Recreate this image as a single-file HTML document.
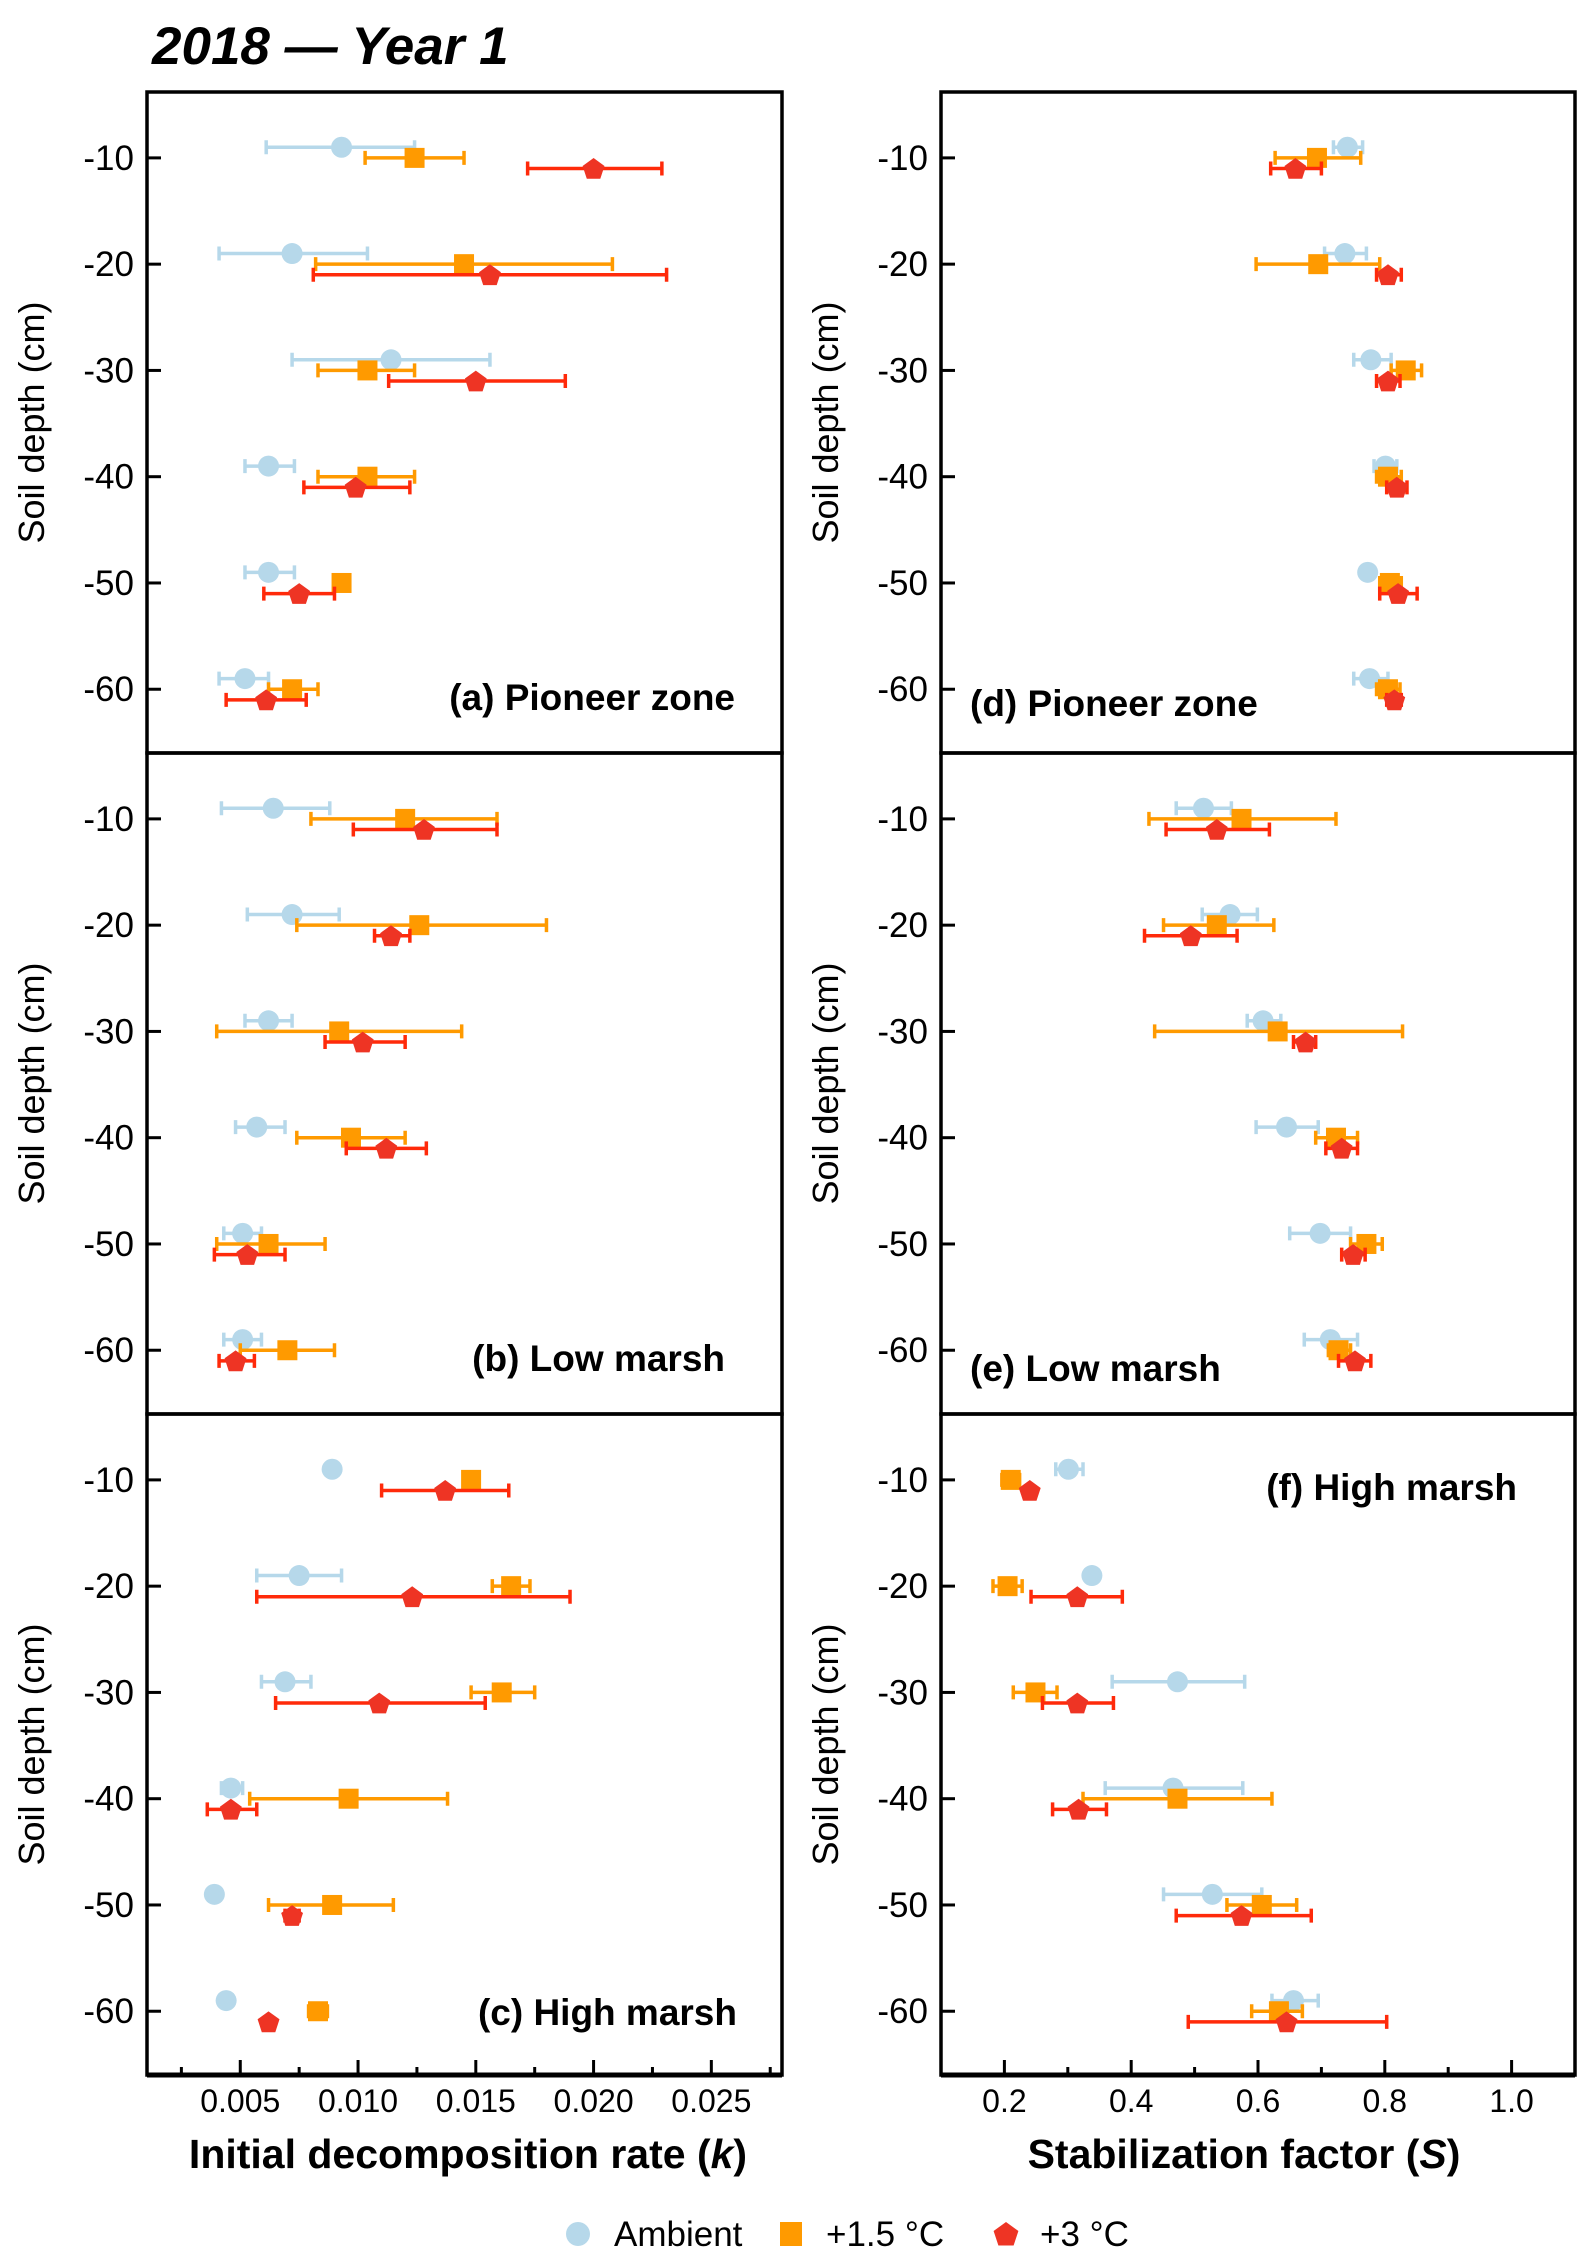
<!DOCTYPE html>
<html><head><meta charset="utf-8"><style>
body{margin:0;background:#fff}
svg{display:block;font-family:"Liberation Sans",Arial,sans-serif}
</style></head><body>
<svg id="fig" width="1595" height="2266" viewBox="0 0 1595 2266" xmlns="http://www.w3.org/2000/svg">
<text x="152" y="64" font-size="53" font-weight="bold" font-style="italic">2018 — Year 1</text>
</svg>
<script>
const depths=[-10,-20,-30,-40,-50,-60];
const kTicks=[0.005,0.010,0.015,0.020,0.025];
const kTickLabels=["0.005","0.010","0.015","0.020","0.025"];
const sTicks=[0.2,0.4,0.6,0.8,1.0];
const sTickLabels=["0.2","0.4","0.6","0.8","1.0"];
const yTicks=[-10,-20,-30,-40,-50,-60];
// panel a (k)
const aAmb=[0.0093,0.0072,0.0114,0.0062,0.0062,0.0052];
const aAmbLo=[0.0061,0.0041,0.0072,0.0052,0.0052,0.0041];
const aAmbHi=[0.0124,0.0104,0.0156,0.0073,0.0073,0.0062];
const aW15=[0.0124,0.0145,0.0104,0.0104,0.0093,0.0072];
const aW15Lo=[0.0103,0.0082,0.0083,0.0083,0.0093,0.0062];
const aW15Hi=[0.0145,0.0208,0.0124,0.0124,0.0093,0.0083];
const aW3=[0.0200,0.0156,0.0150,0.0099,0.0075,0.0061];
const aW3Lo=[0.0172,0.0081,0.0113,0.0077,0.0060,0.0044];
const aW3Hi=[0.0229,0.0231,0.0188,0.0122,0.0090,0.0078];
// panel b (k)
const bAmb=[0.0064,0.0072,0.0062,0.0057,0.0051,0.0051];
const bAmbLo=[0.0042,0.0053,0.0052,0.0048,0.0043,0.0043];
const bAmbHi=[0.0088,0.0092,0.0072,0.0069,0.0059,0.0059];
const bW15=[0.0120,0.0126,0.0092,0.0097,0.0062,0.0070];
const bW15Lo=[0.0080,0.0074,0.0040,0.0074,0.0040,0.0050];
const bW15Hi=[0.0159,0.0180,0.0144,0.0120,0.0086,0.0090];
const bW3=[0.0128,0.0114,0.0102,0.0112,0.0053,0.0048];
const bW3Lo=[0.0098,0.0107,0.0086,0.0095,0.0039,0.0041];
const bW3Hi=[0.0159,0.0122,0.0120,0.0129,0.0069,0.0056];
// panel c (k)
const cAmb=[0.0089,0.0075,0.0069,0.0046,0.0039,0.0044];
const cAmbLo=[0.0089,0.0057,0.0059,0.0042,0.0039,0.0044];
const cAmbHi=[0.0089,0.0093,0.0080,0.0051,0.0039,0.0044];
const cW15=[0.0148,0.0165,0.0161,0.0096,0.0089,0.0083];
const cW15Lo=[0.0148,0.0157,0.0148,0.0054,0.0062,0.0079];
const cW15Hi=[0.0148,0.0173,0.0175,0.0138,0.0115,0.0087];
const cW3=[0.0137,0.0123,0.0109,0.0046,0.0072,0.0062];
const cW3Lo=[0.0110,0.0057,0.0065,0.0036,0.0069,0.0062];
const cW3Hi=[0.0164,0.0190,0.0154,0.0057,0.0075,0.0062];
// panel d (S)
const dAmb=[0.741,0.737,0.778,0.801,0.773,0.776];
const dAmbLo=[0.719,0.705,0.751,0.783,0.773,0.751];
const dAmbHi=[0.765,0.771,0.810,0.819,0.773,0.805];
const dW15=[0.693,0.695,0.833,0.805,0.808,0.805];
const dW15Lo=[0.627,0.597,0.810,0.787,0.792,0.787];
const dW15Hi=[0.762,0.792,0.858,0.826,0.826,0.824];
const dW3=[0.659,0.805,0.805,0.819,0.821,0.815];
const dW3Lo=[0.620,0.787,0.787,0.803,0.792,0.803];
const dW3Hi=[0.700,0.826,0.824,0.835,0.851,0.826];
// panel e (S)
const eAmb=[0.514,0.556,0.608,0.645,0.698,0.714];
const eAmbLo=[0.471,0.512,0.583,0.597,0.650,0.673];
const eAmbHi=[0.558,0.599,0.636,0.695,0.746,0.757];
const eW15=[0.574,0.535,0.631,0.723,0.771,0.727];
const eW15Lo=[0.428,0.451,0.437,0.691,0.746,0.711];
const eW15Hi=[0.723,0.625,0.828,0.757,0.796,0.746];
const eW3=[0.535,0.494,0.675,0.732,0.750,0.753];
const eW3Lo=[0.455,0.421,0.656,0.707,0.732,0.727];
const eW3Hi=[0.618,0.567,0.691,0.757,0.769,0.778];
// panel f (S)
const fAmb=[0.301,0.338,0.473,0.466,0.528,0.656];
const fAmbLo=[0.281,0.338,0.370,0.359,0.451,0.622];
const fAmbHi=[0.324,0.338,0.579,0.576,0.606,0.695];
const fW15=[0.210,0.205,0.249,0.473,0.606,0.633];
const fW15Lo=[0.196,0.182,0.214,0.324,0.551,0.590];
const fW15Hi=[0.224,0.228,0.283,0.622,0.661,0.670];
const fW3=[0.240,0.315,0.315,0.317,0.574,0.645];
const fW3Lo=[0.240,0.242,0.260,0.276,0.471,0.490];
const fW3Hi=[0.240,0.386,0.372,0.361,0.684,0.803];

const NS="http://www.w3.org/2000/svg";
const svg=document.getElementById('fig');
function mk(tag,attrs,parent){const e=document.createElementNS(NS,tag);for(const k in attrs)e.setAttribute(k,attrs[k]);(parent||svg).appendChild(e);return e;}
const AMB="#b6d8ea",ORG="#ff9a00",RED="#ee3424",REDBAR="#ff2a0a";
const rows=[92,753,1414,2075];
const cols=[[147,782],[941,1575]];
const kDom=[0.00104,0.0280],sDom=[0.1,1.1];
const yTop=-3.8,yBot=-66.0;

function pentagon(cx,cy,r){let p=[];for(let i=0;i<5;i++){const a=-Math.PI/2+i*2*Math.PI/5;p.push((cx+r*Math.cos(a)).toFixed(1)+","+(cy+r*Math.sin(a)).toFixed(1));}return p.join(" ");}

function panel(ci,ri,dom,series,label,labelPos,name){
  const x0=cols[ci][0],x1=cols[ci][1],y0=rows[ri],y1=rows[ri+1];
  const g=mk('g',{});
  
  
  const X=v=>x0+(v-dom[0])/(dom[1]-dom[0])*(x1-x0);
  const Y=v=>y0+(v-yTop)/(yBot-yTop)*(y1-y0);
  yTicks.forEach(t=>{
    const tk=mk('line',{x1:x0,x2:x0+14,y1:Y(t),y2:Y(t),stroke:'#000','stroke-width':3},g);
    
    
    const tl=mk('text',{x:x0-13,y:Y(t)+12,'font-size':35,'text-anchor':'end'},g);
    
    
    tl.textContent=String(t);
  });
  const yt=mk('text',{transform:`translate(${x0-103},${(y0+y1)/2}) rotate(-90)`,'font-size':36,'text-anchor':'middle'},g);
  
  
  yt.textContent='Soil depth (cm)';
  const offs=[1,0,-1];
  series.forEach((s,si)=>{
    const col=[AMB,ORG,REDBAR][si];
    depths.forEach((d,i)=>{
      const yy=Y(d+offs[si]);
      const lo=X(s.lo[i]),hi=X(s.hi[i]);
      if(hi-lo>2){
        const eb=mk('path',{d:`M${lo},${yy}H${hi}M${lo},${yy-7}V${yy+7}M${hi},${yy-7}V${yy+7}`,stroke:col,'stroke-width':3.5,fill:'none'},g);
        
        
      }
      const cx=X(s.v[i]);let m;
      if(si===0)m=mk('circle',{cx:cx,cy:yy,r:10.5,fill:AMB},g);
      else if(si===1)m=mk('rect',{x:cx-10,y:yy-10,width:20,height:20,fill:ORG},g);
      else m=mk('polygon',{points:pentagon(cx,yy+1,11.5),fill:RED},g);
      
      
    });
  });
  const lb=mk('text',{x:labelPos[0],y:labelPos[1],'font-size':37,'font-weight':'bold','text-anchor':labelPos[2]},g);
  
  
  lb.textContent=label;
  const fr=mk('rect',{x:x0,y:y0,width:x1-x0,height:y1-y0,fill:'none',stroke:'#000','stroke-width':3.5},g);
  
  
  return X;
}
const S=(v,lo,hi)=>({v,lo,hi});
panel(0,0,kDom,[S(aAmb,aAmbLo,aAmbHi),S(aW15,aW15Lo,aW15Hi),S(aW3,aW3Lo,aW3Hi)],'(a) Pioneer zone',[735,710,'end'],'panel-a-pioneer');
panel(0,1,kDom,[S(bAmb,bAmbLo,bAmbHi),S(bW15,bW15Lo,bW15Hi),S(bW3,bW3Lo,bW3Hi)],'(b) Low marsh',[725,1371,'end'],'panel-b-low-marsh');
const Xc=panel(0,2,kDom,[S(cAmb,cAmbLo,cAmbHi),S(cW15,cW15Lo,cW15Hi),S(cW3,cW3Lo,cW3Hi)],'(c) High marsh',[737,2025,'end'],'panel-c-high-marsh');
panel(1,0,sDom,[S(dAmb,dAmbLo,dAmbHi),S(dW15,dW15Lo,dW15Hi),S(dW3,dW3Lo,dW3Hi)],'(d) Pioneer zone',[970,716,'start'],'panel-d-pioneer');
panel(1,1,sDom,[S(eAmb,eAmbLo,eAmbHi),S(eW15,eW15Lo,eW15Hi),S(eW3,eW3Lo,eW3Hi)],'(e) Low marsh',[970,1381,'start'],'panel-e-low-marsh');
const Xf=panel(1,2,sDom,[S(fAmb,fAmbLo,fAmbHi),S(fW15,fW15Lo,fW15Hi),S(fW3,fW3Lo,fW3Hi)],'(f) High marsh',[1517,1500,'end'],'panel-f-high-marsh');

// bottom axes
const yb=2075;
mk('line',{x1:147,x2:782,y1:yb,y2:yb,stroke:'#000','stroke-width':5});
mk('line',{x1:941,x2:1575,y1:yb,y2:yb,stroke:'#000','stroke-width':5});
for(let v=0.0025;v<0.028;v+=0.0025){const x=Xc(v);const maj=Math.abs(v/0.005-Math.round(v/0.005))<1e-6;
  const t=mk('line',{x1:x,x2:x,y1:yb,y2:yb-(maj?15:8),stroke:'#000','stroke-width':3});
  
  }
for(let v=0.2;v<1.1;v+=0.1){const x=Xf(v);const maj=Math.abs(v*5-Math.round(v*5))<1e-6;
  const t=mk('line',{x1:x,x2:x,y1:yb,y2:yb-(maj?15:8),stroke:'#000','stroke-width':3});
  
  }
kTicks.forEach((v,i)=>{const t=mk('text',{x:Xc(v),y:2112,'font-size':32,'text-anchor':'middle'});
  
  
  t.textContent=kTickLabels[i];});
sTicks.forEach((v,i)=>{const t=mk('text',{x:Xf(v),y:2112,'font-size':32,'text-anchor':'middle'});
  
  
  t.textContent=sTickLabels[i];});
const xt1=mk('text',{x:468,y:2168,'font-size':41,'font-weight':'bold','text-anchor':'middle'});


xt1.innerHTML='Initial decomposition rate (<tspan font-style="italic">k</tspan>)';
const xt2=mk('text',{x:1244,y:2168,'font-size':41,'font-weight':'bold','text-anchor':'middle'});


xt2.innerHTML='Stabilization factor (<tspan font-style="italic">S</tspan>)';
// legend
const ly=2234;
const l1=mk('circle',{cx:578,cy:ly,r:12,fill:AMB});


const lt1=mk('text',{x:614,y:ly+12,'font-size':35});


lt1.textContent='Ambient';
const l2=mk('rect',{x:780,y:ly-12,width:22,height:24,fill:ORG});


const lt2=mk('text',{x:826,y:ly+12,'font-size':35});


lt2.textContent='+1.5 °C';
const l3=mk('polygon',{points:pentagon(1006,ly+1,13),fill:RED});


const lt3=mk('text',{x:1040,y:ly+12,'font-size':35});


lt3.textContent='+3 °C';
</script>
</body></html>
